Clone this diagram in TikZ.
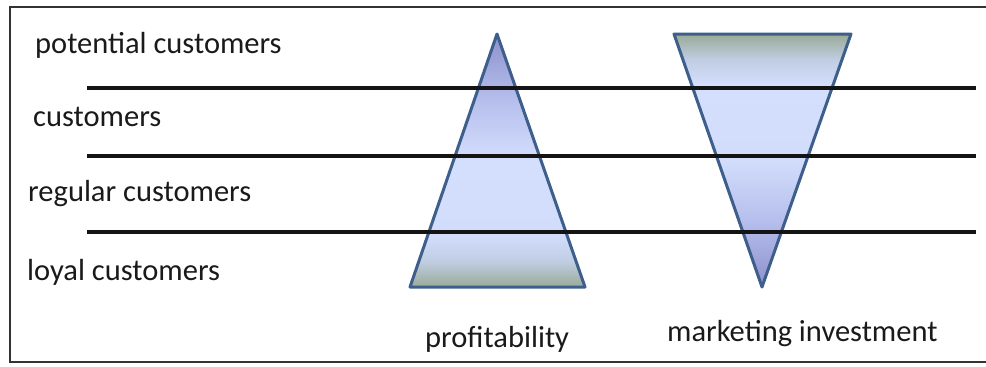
\documentclass[tikz,border=0pt]{standalone}
\usepackage{fontspec}
\setmainfont{Carlito}
\usetikzlibrary{shadings}
\definecolor{txt}{HTML}{1A1A1A}
\definecolor{edge}{HTML}{3E5F8C}
\definecolor{cgreen}{HTML}{9AAA96}
\definecolor{cmix}{HTML}{BFCDE2}
\definecolor{clight}{HTML}{D2DDFB}
\definecolor{clight2}{HTML}{D4DFFD}
\definecolor{cmid}{HTML}{B6BEEC}
\definecolor{cdark}{HTML}{8C91CC}
\pgfdeclareverticalshading{proftri}{100bp}{
  color(0bp)=(cgreen);
  color(25bp)=(cgreen);
  color(30bp)=(cmix);
  color(35bp)=(clight);
  color(50bp)=(clight2);
  color(62bp)=(cmid);
  color(75bp)=(cdark);
  color(100bp)=(cdark)}
\pgfdeclareverticalshading{mkttri}{100bp}{
  color(0bp)=(cdark);
  color(25bp)=(cdark);
  color(38bp)=(cmid);
  color(50bp)=(clight);
  color(65bp)=(clight2);
  color(70bp)=(cmix);
  color(75bp)=(cgreen);
  color(100bp)=(cgreen)}
\tikzset{
  lbl/.style={anchor=base west, inner sep=0pt, text=txt, font=\fontsize{30.5}{36}\selectfont},
  tri/.style={draw=edge, line width=3pt, line join=round},
  band/.style={draw=black!92, line width=3.2pt},
  frame/.style={draw=black!80, line width=2.6pt}
}
\begin{document}
\begin{tikzpicture}[x=1pt,y=-1pt]
\useasboundingbox (0,0) rectangle (986,367);
\fill[white] (0,0) rectangle (986,367);
% triangles
\coordinate (pa) at (497,34);
\coordinate (pl) at (410,287);
\coordinate (pr) at (585,287);
\coordinate (ml) at (674,34);
\coordinate (mr) at (851,34);
\coordinate (ma) at (762,287);
\shade[shading=proftri, tri] (pa) -- (pr) -- (pl) -- cycle;
\shade[shading=mkttri, tri] (ml) -- (mr) -- (ma) -- cycle;
% band lines
\coordinate (l1a) at (87,88);   \coordinate (l1b) at (976,88);
\coordinate (l2a) at (87,156);  \coordinate (l2b) at (976,156);
\coordinate (l3a) at (87,232);  \coordinate (l3b) at (976,232);
\draw[band] (l1a) -- (l1b);
\draw[band] (l2a) -- (l2b);
\draw[band] (l3a) -- (l3b);
% frame
\coordinate (ftr) at (990,7);
\coordinate (ftl) at (10,7);
\coordinate (fbl) at (10,362);
\coordinate (fbr) at (990,362);
\draw[frame] (ftr) -- (ftl) -- (fbl) -- (fbr);
% labels
\node[lbl] (t1) at (35,53) {potential customers};
\node[lbl] (t2) at (33,126) {customers};
\node[lbl] (t3) at (28,201) {regular customers};
\node[lbl] (t4) at (27,280) {loyal customers};
\node[lbl] (t5) at (425,347) {profitability};
\node[lbl] (t6) at (667,341) {marketing investment};
\end{tikzpicture}
\end{document}
